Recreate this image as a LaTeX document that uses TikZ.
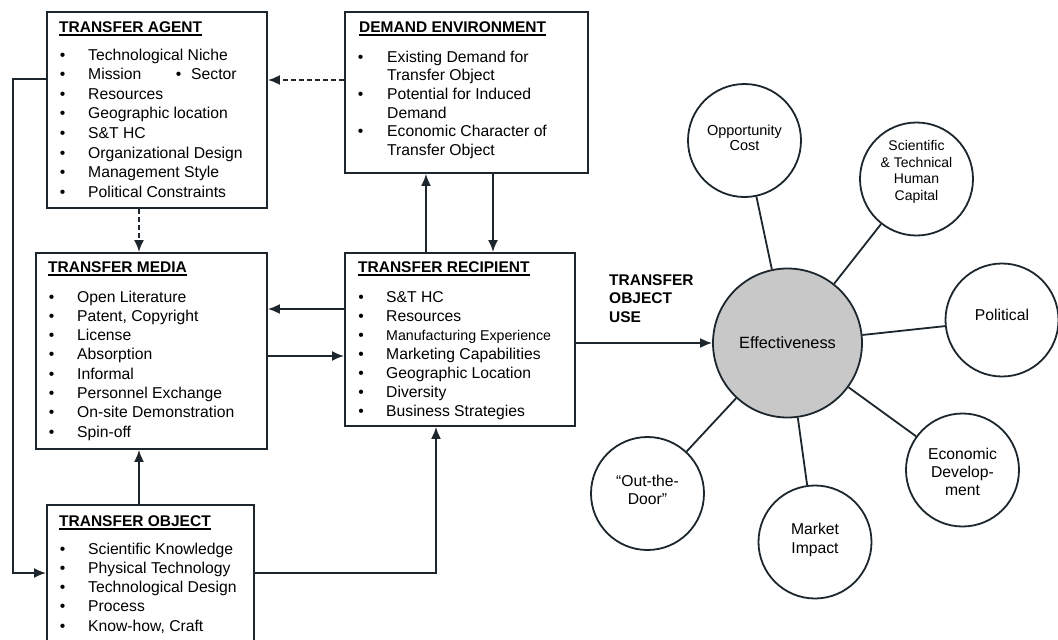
\documentclass[tikz,border=0pt]{standalone}
\usepackage{fontspec}
\setmainfont{Liberation Sans}
\usetikzlibrary{arrows.meta}
\definecolor{ink}{RGB}{28,38,44}
\definecolor{effgray}{RGB}{200,200,200}
\newcommand\blist[6]{%
  \foreach \t/\b [count=\i] in {#6} {%
    \path ({#3},{#4+(\i-1)*#5}) node[itm] (#1t\i) {\t};
    \ifnum\b=1 \path ({#2},{#4+(\i-1)*#5}) node[bul] (#1b\i) {\textbullet};\fi
  }}
\newcommand\ttlul[1]{\draw[ul] ([yshift=-3pt]#1.base west) -- ([yshift=-3pt]#1.base east);}
\begin{document}
\begin{tikzpicture}[x=1pt,y=-1pt,
  box/.style={draw=ink, line width=1.9pt, inner sep=0pt, outer sep=0.95pt, anchor=north west},
  ttl/.style={font=\fontsize{15.5}{18}\selectfont\bfseries, inner sep=0pt, anchor=base west},
  itm/.style={font=\fontsize{15.7}{18}\selectfont, inner sep=0pt, anchor=base west},
  bul/.style={font=\fontsize{15.7}{18}\selectfont, inner sep=0pt, anchor=base},
  ul/.style={draw=black, line width=1.5pt},
  conn/.style={draw=ink, line width=1.8pt},
  arr/.style={conn, -{Latex[length=12pt,width=10pt]}},
  dsh/.style={dash pattern=on 5pt off 3pt},
  circ/.style={circle, draw=ink, fill=white, line width=1.8pt, minimum size=113pt, inner sep=0pt, outer sep=0.9pt},
  clab/.style={align=center, inner sep=0pt, font=\fontsize{15.7}{18.3}\selectfont}
]
\useasboundingbox (0,0) rectangle (1058,640);
\clip (0,0) rectangle (1058,640);

% boxes
\node[box, minimum width=220pt, minimum height=196pt] (agent) at (46,11) {};
\node[box, minimum width=243pt, minimum height=161pt] (demand) at (344,11) {};
\node[box, minimum width=231pt, minimum height=196pt] (media) at (35,252) {};
\node[box, minimum width=230pt, minimum height=173pt] (recip) at (344,252) {};
\node[box, minimum width=207pt, minimum height=150pt] (object) at (46,504) {};

% titles
\node[ttl] (agentT) at (59,32) {TRANSFER AGENT}; \ttlul{agentT}
\node[ttl] (demandT) at (359,32) {DEMAND ENVIRONMENT}; \ttlul{demandT}
\node[ttl] (mediaT) at (48,272) {TRANSFER MEDIA}; \ttlul{mediaT}
\node[ttl] (recipT) at (358,272) {TRANSFER RECIPIENT}; \ttlul{recipT}
\node[ttl] (objectT) at (59,526) {TRANSFER OBJECT}; \ttlul{objectT}

% lists
\blist{ag}{62.5}{88}{60}{19.6}{Technological Niche/1, Mission/1, Resources/1, Geographic location/1, S\&T HC/1, Organizational Design/1, Management Style/1, Political Constraints/1}
\node[bul] (agbx) at (178.5,79.6) {\textbullet};
\node[itm] (agsec) at (191,79.6) {Sector};
\blist{de}{360.7}{387}{62}{18.7}{Existing Demand for/1, Transfer Object/0, Potential for Induced/1, Demand/0, Economic Character of/1, Transfer Object/0}
\blist{me}{51.5}{77}{302}{19.3}{Open Literature/1, {Patent, Copyright}/1, License/1, Absorption/1, Informal/1, Personnel Exchange/1, On-site Demonstration/1, Spin-off/1}
\blist{re}{361}{386}{302}{19}{S\&T HC/1, Resources/1, {{\fontsize{14.2}{16}\selectfont Manufacturing Experience}}/1, Marketing Capabilities/1, Geographic Location/1, Diversity/1, Business Strategies/1}
\blist{ob}{62.5}{88}{554}{19.25}{Scientific Knowledge/1, Physical Technology/1, Technological Design/1, Process/1, {Know-how, Craft}/1}

% use label
\node[ttl] (use1) at (609,285.5) {TRANSFER};
\node[ttl] (use2) at (609,303.5) {OBJECT};
\node[ttl] (use3) at (609,322.5) {USE};

% circles
\node[circ, fill=effgray, minimum size=149pt] (eff) at (787.5,343) {};
\node[circ] (opp) at (744.5,140.5) {};
\node[circ] (sci) at (916.5,179) {};
\node[circ] (pol) at (1002,320) {};
\node[circ] (out) at (647.5,493.5) {};
\node[circ] (mkt) at (815,542) {};
\node[circ] (eco) at (962.5,470) {};

\node[clab, font=\fontsize{16.3}{18}\selectfont] (effL) at (787.5,343) {Effectiveness};
\node[clab, font=\fontsize{14.5}{15}\selectfont] (oppL) at (744.5,137.5) {Opportunity\\Cost};
\node[clab, font=\fontsize{14}{16.5}\selectfont] (sciL) at (916.5,172) {Scientific\\\& Technical\\Human\\Capital};
\node[clab] (polL) at (1002,315) {Political};
\node[clab] (outL) at (647.5,490) {“Out-the-\\Door”};
\node[clab] (mktL) at (815,540) {Market\\Impact};
\node[clab] (ecoL) at (962.5,472) {Economic\\Develop-\\ment};

\draw[conn] (eff) -- (opp);
\draw[conn] (eff) -- (sci);
\draw[conn] (eff) -- (pol);
\draw[conn] (eff) -- (out);
\draw[conn] (eff) -- (mkt);
\draw[conn] (eff) -- (eco);

% helper coordinates
\coordinate (yAD) at (0,80);
\coordinate (xAM) at (139,0);
\coordinate (yL) at (0,79);
\coordinate (lt) at (13,79);
\coordinate (lb) at (13,573);
\coordinate (yO) at (0,573);
\coordinate (xUp) at (426,0);
\coordinate (xDn) at (493,0);
\coordinate (yRM) at (0,309);
\coordinate (yMR) at (0,356);
\coordinate (xOR) at (436,0);
\coordinate (ork) at (436,573);

% connectors
\draw[arr, dsh] (demand.west |- yAD) -- (agent.east |- yAD);
\draw[arr, dsh] (agent.south -| xAM) -- (media.north -| xAM);
\draw[arr] (agent.west |- yL) -- (lt) -- (lb) -- (object.west |- yO);
\draw[arr] (recip.north -| xUp) -- (demand.south -| xUp);
\draw[arr] (demand.south -| xDn) -- (recip.north -| xDn);
\draw[arr] (recip.west |- yRM) -- (media.east |- yRM);
\draw[arr] (media.east |- yMR) -- (recip.west |- yMR);
\draw[arr] (object.north -| xAM) -- (media.south -| xAM);
\draw[arr] (object.east |- yO) -- (ork) -- (recip.south -| xOR);
\draw[arr] (recip.east |- eff.west) -- (eff.west);
\end{tikzpicture}
\end{document}
